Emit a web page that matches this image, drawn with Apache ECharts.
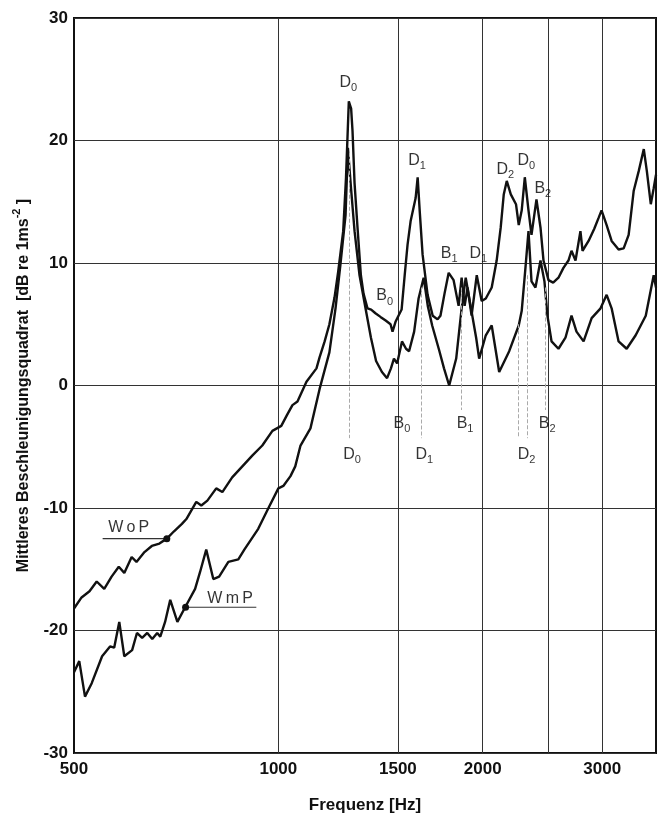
<!DOCTYPE html>
<html><head><meta charset="utf-8">
<script src="https://cdn.jsdelivr.net/npm/echarts@6/dist/echarts.min.js"></script>
<style>html,body{margin:0;padding:0;background:#fff}#c{width:660px;height:822px}</style>
</head><body><div id="c"></div>
<script>
// ---- axis ticks ----
const xTickLabels = [500, 1000, 1500, 2000, 3000];
const xGridLines = [1000, 1500, 2000, 2500, 3000];

// ---- series: [frequency Hz, dB] ----
const wopData = [
[500,-18.2],[513,-17.3],[527,-16.8],[540,-16.0],[554,-16.6],[568,-15.6],[582,-14.8],[593,-15.3],[608,-14.0],[618,-14.4],
[635,-13.6],[651,-13.1],[668,-12.9],[685,-12.5],[702,-11.9],[721,-11.3],[732,-10.9],[757,-9.5],[770,-9.8],[786,-9.4],
[810,-8.4],[827,-8.7],[855,-7.5],[885,-6.6],[916,-5.7],[947,-4.9],[980,-3.7],[1010,-3.3],[1030,-2.4],[1049,-1.6],
[1067,-1.3],[1100,0.3],[1138,1.4],[1150,2.3],[1170,3.6],[1189,5.0],[1210,7.2],[1225,9.3],[1246,12.6],[1258,17.0],
[1270,23.2],[1280,22.6],[1286,20.8],[1295,16.5],[1308,12.9],[1323,9.0],[1335,7.5],[1353,6.3],[1370,6.2],[1390,5.9],
[1414,5.6],[1439,5.3],[1463,5.0],[1473,4.4],[1488,5.2],[1503,5.7],[1519,6.2],[1535,9.0],[1550,11.5],[1566,13.4],
[1593,15.3],[1604,17.0],[1615,14.3],[1631,10.7],[1659,7.4],[1688,5.7],[1716,5.4],[1733,5.7],[1757,7.5],[1782,9.2],
[1812,8.6],[1843,6.5],[1862,8.8],[1881,6.5],[1900,8.0],[1926,5.7],[1960,9.0],[1993,6.9],[2021,7.1],[2062,8.0],
[2097,10.2],[2126,12.9],[2148,15.6],[2170,16.7],[2200,15.6],[2239,14.8],[2260,13.1],[2283,14.3],[2307,17.0],[2336,14.3],
[2360,12.3],[2400,15.2],[2433,12.9],[2458,10.2],[2500,8.6],[2540,8.4],[2586,8.8],[2630,9.6],[2675,10.2],[2703,11.0],
[2740,10.2],[2786,12.6],[2806,11.0],[2864,11.8],[2920,12.8],[2964,13.7],[2993,14.3],[3045,13.1],[3097,11.8],[3171,11.1],
[3226,11.2],[3281,12.3],[3338,15.9],[3395,17.5],[3454,19.3],[3490,17.5],[3537,14.8],[3572,16.1],[3600,17.2]
];
const wmpData = [
[500,-23.4],[509,-22.5],[519,-25.4],[531,-24.3],[550,-22.1],[565,-21.3],[573,-21.4],[583,-19.3],[593,-22.1],[609,-21.6],
[619,-20.2],[630,-20.6],[641,-20.2],[652,-20.7],[663,-20.2],[670,-20.5],[681,-19.3],[693,-17.5],[710,-19.3],[729,-18.1],
[754,-16.6],[767,-15.2],[783,-13.4],[802,-15.8],[818,-15.6],[844,-14.4],[873,-14.2],[891,-13.4],[934,-11.7],[967,-10.0],
[1000,-8.4],[1017,-8.2],[1042,-7.4],[1059,-6.6],[1078,-4.9],[1115,-3.5],[1150,-0.3],[1189,2.7],[1214,6.3],[1234,9.8],
[1256,13.9],[1266,19.4],[1280,16.0],[1295,12.6],[1317,9.0],[1344,6.3],[1369,3.9],[1393,2.0],[1421,1.1],[1446,0.6],
[1465,1.4],[1480,2.2],[1496,1.8],[1521,3.6],[1542,3.0],[1558,2.8],[1585,4.4],[1609,7.1],[1637,8.8],[1660,6.5],
[1685,4.9],[1725,2.9],[1754,1.4],[1785,0.0],[1828,2.2],[1862,6.3],[1888,8.8],[1907,7.4],[1956,3.9],[1976,2.2],
[2021,4.1],[2062,4.9],[2115,1.1],[2188,2.8],[2260,4.9],[2283,6.1],[2312,9.6],[2336,12.6],[2360,8.5],[2392,8.0],
[2433,10.2],[2466,8.5],[2491,5.7],[2526,3.6],[2586,3.0],[2648,3.9],[2703,5.7],[2749,4.4],[2816,3.6],[2894,5.5],
[2983,6.3],[3045,7.4],[3097,6.3],[3171,3.6],[3259,3.0],[3360,4.1],[3477,5.7],[3572,9.0],[3600,8.0]
];

// ---- annotations ----
const curveNames = ['WoP', 'WmP'];
const curveNameAt = [[602, -11.6], [849, -17.4]];
// [start, end]; the dot sits on the curve end given by dotIndex
const leaderWoP = [[551, -12.5], [685, -12.5]];
const leaderWmP = [[730, -18.1], [928, -18.1]];
// [letter, index, freq, dB]
const modeLabels = [
['D','0',1268,24.75],['D','1',1601,18.4],['D','2',2159,17.6],['D','0',2318,18.4],['B','2',2452,16.1],
['B','1',1785,10.8],['D','1',1970,10.8],['B','0',1434,7.3],
['B','0',1521,-3.1],['B','1',1884,-3.1],['B','2',2489,-3.1],
['D','0',1284,-5.6],['D','1',1641,-5.6],['D','2',2320,-5.6]
];
// [freq, from dB, to dB]
const modeGuides = [[1273,19,-4.3],[1625,8,-4.3],[1862,8,-2],[2253,5,-4.3],[2323,9,-4.3],[2470,8,-2]];

const FONT = '"Liberation Sans", Arial, sans-serif';
const INK = '#111';

const chart = echarts.init(document.getElementById('c'), null, {renderer: 'canvas'});

function leaderSeries(pts, dotIndex) {
  return {
    type: 'line', data: pts.map((p, i) => ({
      value: p,
      symbol: i === dotIndex ? 'circle' : 'none',
      symbolSize: 7
    })),
    showSymbol: true, silent: true, animation: false,
    itemStyle: {color: INK},
    lineStyle: {color: '#333', width: 1.2}, z: 4
  };
}

chart.setOption({
  animation: false,
  backgroundColor: '#fff',
  grid: {left: 74, right: 4, top: 18, bottom: 69, show: true, borderColor: INK, borderWidth: 2},
  xAxis: {
    type: 'log', min: 500, max: 3600, logBase: 10,
    axisLine: {show: false},
    axisTick: {show: false, customValues: xGridLines},
    axisLabel: {customValues: xTickLabels, formatter: v => String(Math.round(v)),
      fontSize: 17, fontWeight: 'bold', color: INK, margin: 8, fontFamily: FONT},
    splitLine: {show: true, lineStyle: {color: '#333', width: 1}},
    name: 'Frequenz [Hz]', nameLocation: 'middle', nameGap: 44,
    nameTextStyle: {fontSize: 17, fontWeight: 'bold', color: INK, fontFamily: FONT}
  },
  yAxis: {
    type: 'value', min: -30, max: 30, interval: 10,
    axisLine: {show: false}, axisTick: {show: false},
    axisLabel: {fontSize: 17, fontWeight: 'bold', color: INK, margin: 6, fontFamily: FONT},
    splitLine: {show: true, lineStyle: {color: '#333', width: 1}},
    name: '{a|Mittleres Beschleunigungsquadrat  [dB re 1ms}{s|-2}{a| ]}',
    nameLocation: 'middle', nameGap: 47, nameRotate: 90,
    nameTextStyle: {
      color: INK, fontFamily: FONT,
      rich: {
        a: {fontSize: 16, fontWeight: 'bold', color: INK, fontFamily: FONT, lineHeight: 16, padding: [5,0,0,0], verticalAlign: 'top'},
        s: {fontSize: 11, fontWeight: 'bold', color: INK, fontFamily: FONT, lineHeight: 11, verticalAlign: 'top'}
      }
    }
  },
  series: [
    {
      name: 'WoP', type: 'line', data: wopData, showSymbol: false, silent: true,
      lineStyle: {color: INK, width: 2.4}, z: 3,
      markLine: {
        silent: true, symbol: 'none', animation: false,
        label: {show: false},
        lineStyle: {type: 'dashed', color: '#aaa', width: 1},
        data: modeGuides.map(g => [{coord: [g[0], g[1]]}, {coord: [g[0], g[2]]}])
      }
    },
    {
      name: 'WmP', type: 'line', data: wmpData, showSymbol: false, silent: true,
      lineStyle: {color: INK, width: 2.4}, z: 3
    },
    leaderSeries(leaderWoP, 1),
    leaderSeries(leaderWmP, 0),
    {
      type: 'scatter', symbolSize: 0, silent: true, z: 5,
      data: curveNames.map((n, i) => ({value: curveNameAt[i], name: n})),
      label: {
        show: true, position: 'inside', color: '#000', fontFamily: FONT, fontSize: 16,
        formatter: p => p.name.split('').join('\u2009')
      }
    },
    {
      type: 'scatter', symbolSize: 0, silent: true, z: 5,
      data: modeLabels.map(m => ({value: [m[2], m[3]], name: m[0] + m[1]})),
      label: {
        show: true, position: 'inside',
        formatter: p => '{m|' + p.name[0] + '}{s|' + p.name[1] + '}',
        rich: {
          m: {fontSize: 16, color: '#000', fontFamily: FONT, lineHeight: 16, verticalAlign: 'top'},
          s: {fontSize: 11, color: '#000', fontFamily: FONT, lineHeight: 11, padding: [8,0,0,0], verticalAlign: 'top'}
        }
      }
    }
  ]
});
</script></body></html>
